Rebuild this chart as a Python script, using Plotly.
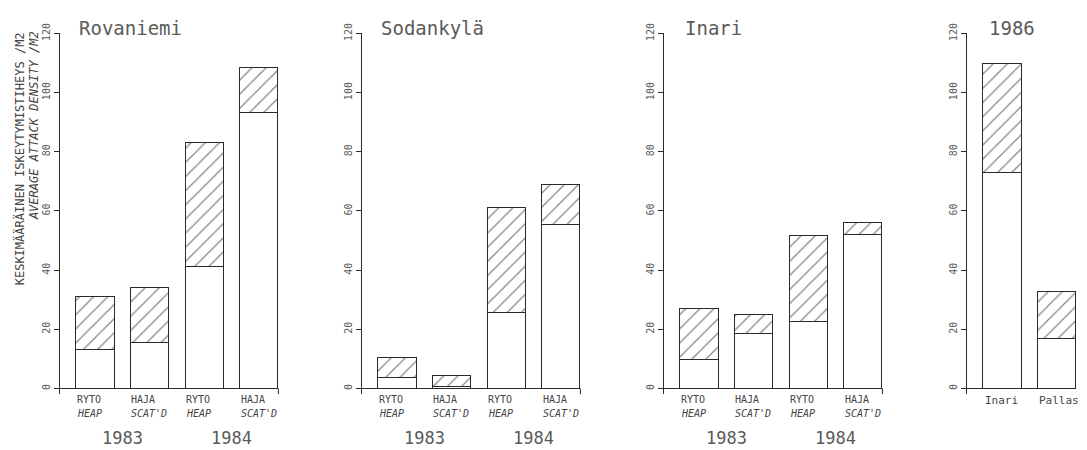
import plotly.graph_objects as go

# Average attack density per m2; each bar = plain lower part + hatched upper part
pile_types = ["RYTO", "HAJA", "RYTO", "HAJA"]
pile_types_en = ["HEAP", "SCAT'D", "HEAP", "SCAT'D"]
years = ["1983", "1984"]

rovaniemi_lower = [13.2, 15.5, 41.3, 93.2]
rovaniemi_upper = [17.8, 18.5, 41.7, 15.3]

sodankyla_lower = [3.7, 0.5, 25.6, 55.4]
sodankyla_upper = [6.6, 4.0, 35.4, 13.6]

inari_lower = [9.9, 18.7, 22.8, 52.1]
inari_upper = [17.0, 6.3, 29.0, 3.9]

sites_1986 = ["Inari", "Pallas"]
y1986_lower = [73.0, 16.8]
y1986_upper = [37.0, 16.0]

y_ticks = [0, 20, 40, 60, 80, 100, 120]

W, H = 1087, 450
LINE = "#2a2a2a"
HATCH = "#111111"
TEXT = "#444444"
TEXT_LIGHT = "#5a5a5a"
FONT = "DejaVu Sans Mono"
SLOT = 54.6        # pixel width of one bar slot
BAR_W = 0.7        # bar width in slot units
X_LEFT = -0.64     # gap between y axis and first bar, in slot units


def fx(p):
    return p / W


def fy(p):
    return 1 - p / H


panels = [
    dict(title="Rovaniemi", lower=rovaniemi_lower, upper=rovaniemi_upper,
         labels=pile_types, labels2=pile_types_en, left=60, title_x=77, end_tick=True),
    dict(title="Sodankylä", lower=sodankyla_lower, upper=sodankyla_upper,
         labels=pile_types, labels2=pile_types_en, left=362, title_x=379, end_tick=True),
    dict(title="Inari", lower=inari_lower, upper=inari_upper,
         labels=pile_types, labels2=pile_types_en, left=664, title_x=683, end_tick=True),
    dict(title="1986", lower=y1986_lower, upper=y1986_upper,
         labels=sites_1986, labels2=None, left=967, title_x=987, end_tick=False),
]

fig = go.Figure()
layout = dict(
    width=W, height=H, margin=dict(l=0, r=0, t=0, b=0),
    paper_bgcolor="white", plot_bgcolor="white",
    barmode="stack", showlegend=False,
    font=dict(family=FONT, color=TEXT),
)
annotations = []
shapes = []
y_domain = [fy(393), fy(23)]

for k, p in enumerate(panels, start=1):
    sfx = "" if k == 1 else str(k)
    xref, yref = f"x{sfx}", f"y{sfx}"
    n = len(p["lower"])
    xs = list(range(n))

    fig.add_trace(go.Bar(
        x=xs, y=p["lower"], width=BAR_W, xaxis=xref, yaxis=yref,
        marker=dict(color="white", line=dict(color=LINE, width=1)),
        hoverinfo="skip",
    ))
    fig.add_trace(go.Bar(
        x=xs, y=p["upper"], width=BAR_W, xaxis=xref, yaxis=yref,
        marker=dict(color="white", line=dict(color=LINE, width=1),
                    pattern=dict(shape="/", size=10, solidity=0.13,
                                 fgcolor=HATCH, bgcolor="white")),
        hoverinfo="skip",
    ))

    layout[f"xaxis{sfx}"] = dict(
        domain=[fx(p["left"]), fx(p["left"] + n * SLOT)],
        range=[X_LEFT, n + X_LEFT], visible=False, anchor=yref,
    )
    layout[f"yaxis{sfx}"] = dict(
        domain=y_domain, range=[-2, 120], anchor=xref,
        tickvals=y_ticks, ticks="outside", ticklen=5, tickwidth=1, tickcolor=LINE,
        showline=True, linecolor=LINE, linewidth=1, showgrid=False,
        zeroline=True, zerolinecolor=LINE, zerolinewidth=1,
        tickangle=-90, tickfont=dict(family=FONT, size=10, color=TEXT_LIGHT),
    )

    # panel title
    annotations.append(dict(
        text=p["title"], xref="paper", yref="paper", x=fx(p["title_x"]), y=fy(17),
        xanchor="left", yanchor="middle", showarrow=False,
        font=dict(family=FONT, size=19, color=TEXT_LIGHT),
    ))

    # labels under the bars
    for j, x in enumerate(xs):
        if p["labels2"] is not None:
            annotations.append(dict(
                text=p["labels"][j], xref=xref, yref="paper", x=x - BAR_W / 2, y=fy(398),
                xanchor="left", yanchor="middle", showarrow=False, xshift=-1,
                font=dict(family=FONT, size=10, color=TEXT),
            ))
            annotations.append(dict(
                text=f"<i>{p['labels2'][j]}</i>", xref=xref, yref="paper",
                x=x - BAR_W / 2, y=fy(413), xanchor="left", yanchor="middle",
                showarrow=False, xshift=-1,
                font=dict(family=FONT, size=10, color=TEXT),
            ))
        else:
            annotations.append(dict(
                text=p["labels"][j], xref=xref, yref="paper", x=x - BAR_W / 2, y=fy(399),
                xanchor="left", yanchor="middle", showarrow=False,
                font=dict(family=FONT, size=11, color=TEXT),
            ))

    # year labels centred under each pair of bars
    if p["labels2"] is not None:
        for yi, yr in enumerate(years):
            annotations.append(dict(
                text=yr, xref=xref, yref="paper", x=(xs[2 * yi] + xs[2 * yi + 1]) / 2,
                y=fy(438), xanchor="center", yanchor="middle", showarrow=False,
                font=dict(family=FONT, size=17, color=TEXT_LIGHT),
            ))

    if p["end_tick"]:
        shapes.append(dict(
            type="line", xref=f"{xref} domain", yref=yref, x0=1, x1=1, y0=0, y1=-2,
            line=dict(color=LINE, width=1),
        ))

# y-axis title, Finnish and English
annotations.append(dict(
    text="KESKIMÄÄRÄINEN ISKEYTYMISTIHEYS /M2", xref="paper", yref="paper",
    x=fx(19), y=fy(152), xanchor="center", yanchor="middle", textangle=-90,
    showarrow=False, font=dict(family=FONT, size=12, color=TEXT),
))
annotations.append(dict(
    text="<i>AVERAGE ATTACK DENSITY /M2</i>", xref="paper", yref="paper",
    x=fx(34), y=fy(118), xanchor="center", yanchor="middle", textangle=-90,
    showarrow=False, font=dict(family=FONT, size=12, color=TEXT),
))

layout["annotations"] = annotations
layout["shapes"] = shapes
fig.update_layout(**layout)

fig.write_html("out.html")
